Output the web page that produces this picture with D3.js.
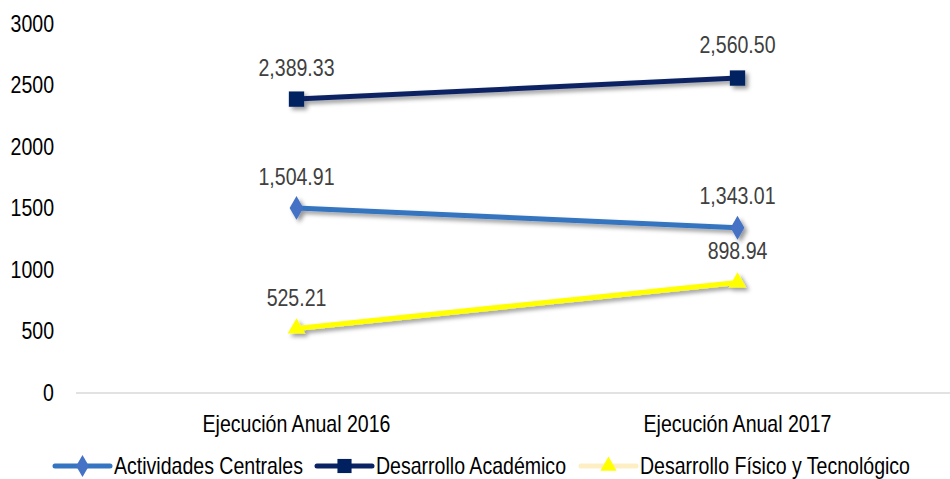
<!DOCTYPE html>
<html><head><meta charset="utf-8">
<script src="https://cdn.jsdelivr.net/npm/d3@7/dist/d3.min.js"></script>
<style>
body{margin:0;background:#fff;}
text{font-family:"Liberation Sans",Arial,sans-serif;}
</style></head>
<body><svg id="c" width="950" height="479"></svg>
<script>
const categories = ["Ejecución Anual 2016", "Ejecución Anual 2017"];
const seriesNames = ["Actividades Centrales", "Desarrollo Académico", "Desarrollo Físico y Tecnológico"];
const actividadesCentrales = [1504.91, 1343.01];
const desarrolloAcademico = [2389.33, 2560.50];
const desarrolloFisico = [525.21, 898.94];
const yTicks = [0, 500, 1000, 1500, 2000, 2500, 3000];

const SX = 0.85; // condensed look (Arial Narrow substitute)
const FS = 23;

const svg = d3.select("#c");
const defs = svg.append("defs");
const f = defs.append("filter").attr("id","sh").attr("x","-50%").attr("y","-50%").attr("width","200%").attr("height","200%");
f.append("feDropShadow").attr("dx",3).attr("dy",3).attr("stdDeviation",2.2).attr("flood-color","#000").attr("flood-opacity",0.4);

const x = d3.scaleBand().domain(categories).range([76, 958]);
const y = d3.scaleLinear().domain([0, 3000]).range([393, 24]);

// baseline
svg.append("line").attr("x1",76).attr("x2",958).attr("y1",y(0)).attr("y2",y(0))
  .attr("stroke","#d9d9d9").attr("stroke-width",1.5);

// y axis
const yAxis = d3.axisLeft(y).tickValues(yTicks).tickSize(0).tickPadding(0).tickFormat(d3.format("d"));
const ga = svg.append("g").attr("transform","translate(54,0)").call(yAxis);
ga.select(".domain").remove();
ga.selectAll("text").attr("font-size",FS).attr("fill","#000").attr("font-family",'"Liberation Sans",Arial,sans-serif')
  .attr("transform",`scale(${SX},1)`);

// x axis labels
const xAxis = d3.axisBottom(x).tickSize(0).tickPadding(0);
const gx = svg.append("g").attr("transform","translate(0,416)").call(xAxis);
gx.select(".domain").remove();
gx.selectAll("text").attr("font-size",FS).attr("fill","#000").attr("font-family",'"Liberation Sans",Arial,sans-serif')
  .attr("transform",`scale(${SX},1)`);

const cx = c => x(c) + x.bandwidth()/2;
const fmt = d3.format(",.2f");

const series = [
  {name: seriesNames[0], values: actividadesCentrales, line:"#3474c0", marker:"#4472c4", shape:"diamond", legendLine:"#3474c0"},
  {name: seriesNames[1], values: desarrolloAcademico, line:"#0a2463", marker:"#002060", shape:"square", legendLine:"#0a2463"},
  {name: seriesNames[2], values: desarrolloFisico, line:"#ffff00", marker:"#ffff00", shape:"triangle", legendLine:"#fdefc3"}
];
const sym = {diamond: d3.symbolDiamond, square: d3.symbolSquare, triangle: d3.symbolTriangle};
const symSize = {diamond: 165, square: 235, triangle: 135};

const lineGen = d3.line().x((d,i)=>cx(categories[i])).y(d=>y(d));
series.forEach(s=>{
  const g = svg.append("g").attr("filter","url(#sh)");
  g.append("path").attr("d", lineGen(s.values)).attr("fill","none").attr("stroke",s.line).attr("stroke-width",5).attr("stroke-linecap","round");
  s.values.forEach((v,i)=>{
    g.append("path").attr("d", d3.symbol().type(sym[s.shape]).size(symSize[s.shape])())
      .attr("transform",`translate(${cx(categories[i])},${y(v)})`).attr("fill",s.marker);
  });
});
// data labels
const labelOff = [[-23,-24],[-23,-25],[-22,-23]];
series.forEach((s,si)=>{
  s.values.forEach((v,i)=>{
    svg.append("text").attr("transform",`translate(${cx(categories[i])},${y(v)+labelOff[si][i]}) scale(${SX},1)`)
      .attr("text-anchor","middle").attr("font-size",FS).attr("fill","#404040").text(fmt(v));
  });
});

// legend
const legX = [55, 317, 581];
series.forEach((s,i)=>{
  const g = svg.append("g").attr("transform",`translate(${legX[i]},466)`);
  g.append("line").attr("x1",0).attr("x2",55).attr("stroke",s.legendLine).attr("stroke-width",5).attr("stroke-linecap","round");
  g.append("path").attr("d", d3.symbol().type(sym[s.shape]).size(symSize[s.shape]*0.85)()).attr("transform","translate(27.5,0)").attr("fill",s.marker);
  g.append("text").attr("transform",`translate(59,8) scale(${SX},1)`).attr("font-size",FS).attr("fill","#000").text(s.name);
});
</script></body></html>
